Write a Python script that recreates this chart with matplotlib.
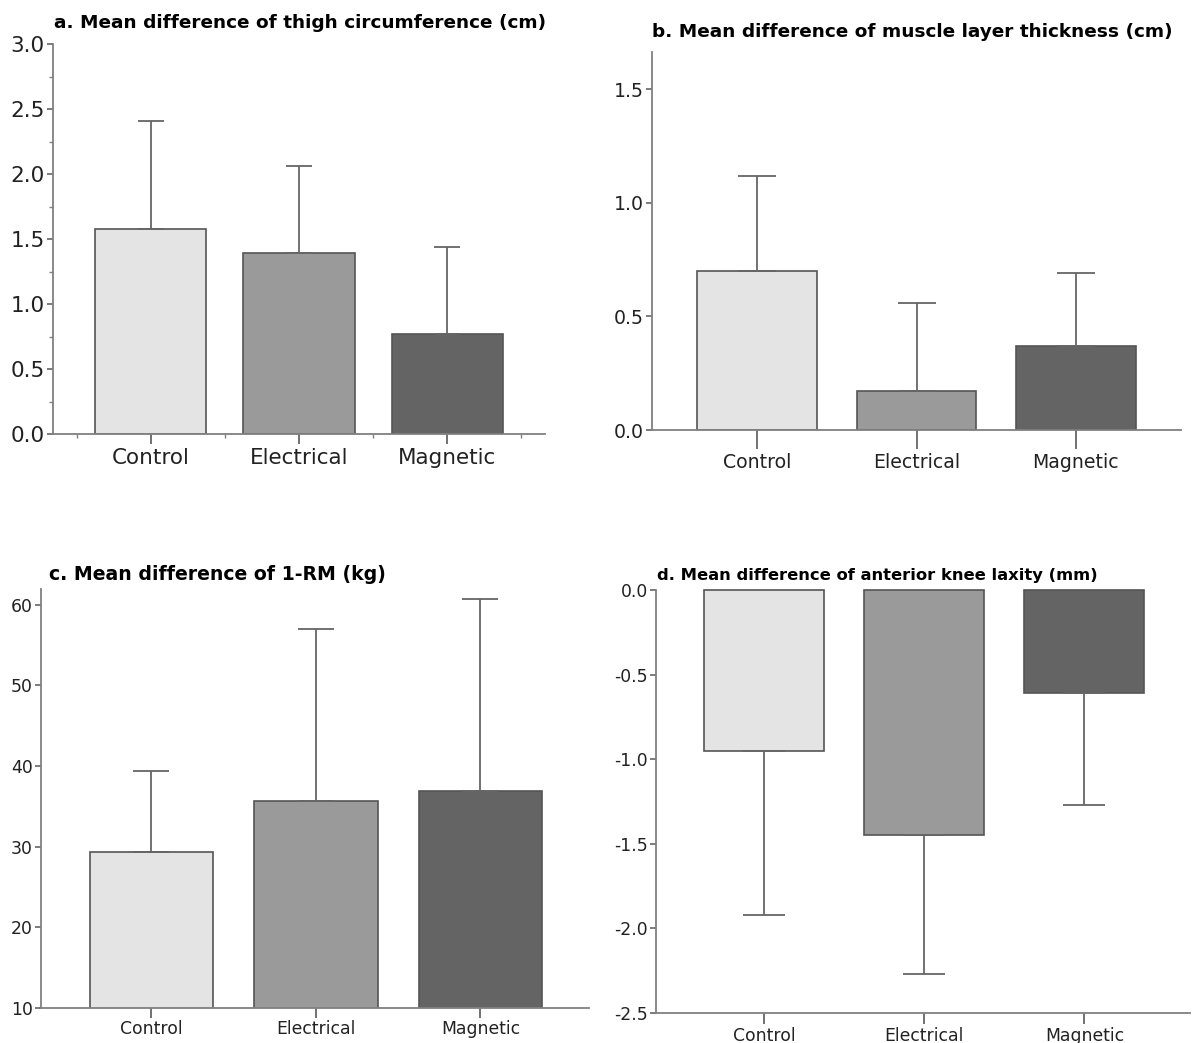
import matplotlib
matplotlib.use('Agg')
import numpy as np
import matplotlib.pyplot as plt
from matplotlib.ticker import MultipleLocator, FixedLocator

plt.rcParams['font.family'] = ['DejaVu Sans']
plt.rcParams['axes.unicode_minus'] = False

W, H = 1192, 1043

categories = ['Control', 'Electrical', 'Magnetic']
bar_colors = ['#e4e4e4', '#9a9a9a', '#646464']

# a. thigh circumference (cm)
thigh_mean = [1.58, 1.39, 0.77]
thigh_sd = [0.83, 0.67, 0.67]
# b. muscle layer thickness (cm)
muscle_mean = [0.70, 0.17, 0.37]
muscle_sd = [0.42, 0.39, 0.32]
# c. 1-RM (kg)
rm_mean = [29.4, 35.6, 36.9]
rm_sd = [10.0, 21.4, 23.8]
# d. anterior knee laxity (mm)
laxity_mean = [-0.95, -1.45, -0.61]
laxity_sd = [0.97, 0.82, 0.66]

titles = ['a. Mean difference of thigh circumference (cm)',
          'b. Mean difference of muscle layer thickness (cm)',
          'c. Mean difference of 1-RM (kg)',
          'd. Mean difference of anterior knee laxity (mm)']


def axes_px(fig, left, right, top, bottom):
    return fig.add_axes([left / W, 1 - bottom / H, (right - left) / W, (bottom - top) / H])


def draw_panel(ax, means, sds, ylim, yticks, xlim, fs, xtick_len, pad, capsize,
               fmt='%.1f', down=False, clip=True):
    x = np.arange(len(categories))
    bars = ax.bar(x, means, width=0.75, color=bar_colors, edgecolor='#555555',
                  linewidth=1.2, zorder=2)
    for b in bars:
        b.set_clip_on(clip)
    if down:
        yerr = [sds, [0] * len(sds)]
    else:
        yerr = [[0] * len(sds), sds]
    ax.errorbar(x, means, yerr=yerr, fmt='none', ecolor='#666666', elinewidth=1.3,
                capsize=capsize, capthick=1.3, zorder=3, clip_on=False)
    ax.set_xlim(*xlim)
    ax.set_ylim(*ylim)
    ax.set_xticks(x)
    ax.set_xticklabels(categories, fontsize=fs, color='#222222')
    ax.set_yticks(yticks)
    ax.set_yticklabels([fmt % v for v in yticks], fontsize=fs, color='#222222')
    for s in ['top', 'right']:
        ax.spines[s].set_visible(False)
    for s in ['left', 'bottom']:
        ax.spines[s].set_color('#808080')
        ax.spines[s].set_linewidth(1.3)
        ax.spines[s].set_zorder(4)
    ax.tick_params(axis='x', length=xtick_len, width=1.3, color='#666666', pad=pad)
    ax.tick_params(axis='y', length=4, width=1.2, color='#666666', pad=2)


fig = plt.figure(figsize=(W / 100, H / 100), dpi=100)

ax_a = axes_px(fig, 53, 545, 44, 434)
draw_panel(ax_a, thigh_mean, thigh_sd, (0, 3.0), [0, 0.5, 1.0, 1.5, 2.0, 2.5, 3.0],
           (-0.66, 2.66), 15.5, 7, 3, 9.5)
ax_a.yaxis.set_minor_locator(MultipleLocator(0.25))
ax_a.xaxis.set_minor_locator(FixedLocator([-0.5, 0.5, 1.5, 2.5]))
ax_a.tick_params(which='minor', length=3, width=1.0, color='#808080')

ax_b = axes_px(fig, 652, 1181, 52, 430)
draw_panel(ax_b, muscle_mean, muscle_sd, (0, 1.665), [0, 0.5, 1.0, 1.5],
           (-0.66, 2.66), 13.6, 14, 2.5, 14)

ax_c = axes_px(fig, 41, 589, 589, 1008)
draw_panel(ax_c, rm_mean, rm_sd, (10, 61.94), [10, 20, 30, 40, 50, 60],
           (-0.67, 2.66), 12.4, 7, 2, 13, fmt='%d')

ax_d = axes_px(fig, 656, 1190, 590, 1013)
draw_panel(ax_d, laxity_mean, laxity_sd, (-2.5, 0), [0, -0.5, -1.0, -1.5, -2.0, -2.5],
           (-0.677, 2.66), 12.4, 8, 2, 15, down=True, clip=False)

# panel titles
fig.text(54 / W, 1 - 28 / H, titles[0], fontsize=13.3, fontweight='bold', va='baseline')
fig.text(652 / W, 1 - 37 / H, titles[1], fontsize=13.3, fontweight='bold', va='baseline')
fig.text(49 / W, 1 - 580 / H, titles[2], fontsize=13.6, fontweight='bold', va='baseline')
fig.text(657 / W, 1 - 580 / H, titles[3], fontsize=11.8, fontweight='bold', va='baseline')

fig.savefig('out.png', dpi=100)
